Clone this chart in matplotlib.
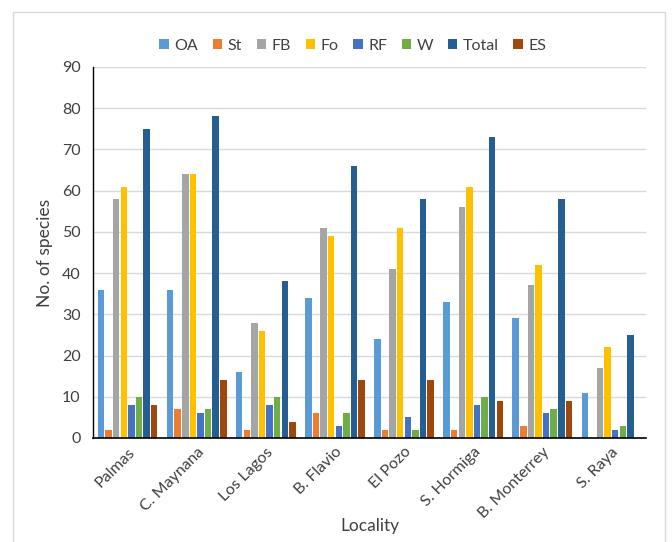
import numpy as np
import matplotlib
matplotlib.use("Agg")
import matplotlib.pyplot as plt
from matplotlib.patches import Rectangle

plt.rcParams['font.family'] = ['Lato', 'DejaVu Sans']

localities = ["Palmas", "C. Maynana", "Los Lagos", "B. Flavio", "El Pozo",
              "S. Hormiga", "B. Monterrey", "S. Raya"]
series_names = ["OA", "St", "FB", "Fo", "RF", "W", "Total", "ES"]
colours = ["#5B9BD5", "#ED7D31", "#A5A5A5", "#FFC000", "#4472C4", "#70AD47",
           "#255E91", "#9E480E"]

OA = [36, 36, 16, 34, 24, 33, 29, 11]
St = [2, 7, 2, 6, 2, 2, 3, 0]
FB = [58, 64, 28, 51, 41, 56, 37, 17]
Fo = [61, 64, 26, 49, 51, 61, 42, 22]
RF = [8, 6, 8, 3, 5, 8, 6, 2]
W = [10, 7, 10, 6, 2, 10, 7, 3]
Total = [75, 78, 38, 66, 58, 73, 58, 25]
ES = [8, 14, 4, 14, 14, 9, 9, 0]

values = [OA, St, FB, Fo, RF, W, Total, ES]

fig = plt.figure(figsize=(6.72, 5.42), dpi=100)
ax = fig.add_axes([0.1384, 0.1919, 0.8229, 0.6845])

# light frame around the chart
fig.patches.append(Rectangle((13 / 672, -0.05), 652 / 672, 1.05 - 12 / 542,
                             transform=fig.transFigure, fill=False,
                             edgecolor="#D9D9D9", linewidth=1))

x = np.arange(len(localities))
slot = 0.11
for i, (name, vals, col) in enumerate(zip(series_names, values, colours)):
    offs = (i - 3.5) * slot
    ax.bar(x + offs, vals, width=slot * 0.85, color=col, linewidth=0,
           label=name, zorder=3)

ax.set_xlim(-0.5, len(localities) - 0.5)
ax.set_ylim(0, 90)
ax.set_yticks(np.arange(0, 91, 10))
ax.yaxis.grid(True, color="#D9D9D9", linewidth=1, zorder=0)
ax.set_axisbelow(True)
ax.tick_params(axis="both", length=0, labelsize=11.5, colors="#404040", pad=9)
ax.tick_params(axis="x", pad=5)
ax.set_xticks(x)
ax.set_xticklabels(localities, rotation=45, ha="right", rotation_mode="anchor")

for s in ["top", "right"]:
    ax.spines[s].set_visible(False)
ax.spines["left"].set_color("black")
ax.spines["bottom"].set_color("black")
ax.spines["left"].set_linewidth(1)
ax.spines["bottom"].set_linewidth(1.2)
ax.spines["bottom"].set_zorder(4)

ax.set_ylabel("No. of species", fontsize=12.5, color="#404040", labelpad=6)
ax.set_xlabel("Locality", fontsize=12.5, color="#404040", labelpad=-2)

ax.legend(loc="lower center", bbox_to_anchor=(0.47, 1.0), ncol=8,
          frameon=False, fontsize=11.5, handlelength=0.6, handleheight=0.6,
          handletextpad=0.35, columnspacing=0.9, labelcolor="#404040")

fig.savefig("out.png", dpi=100)
